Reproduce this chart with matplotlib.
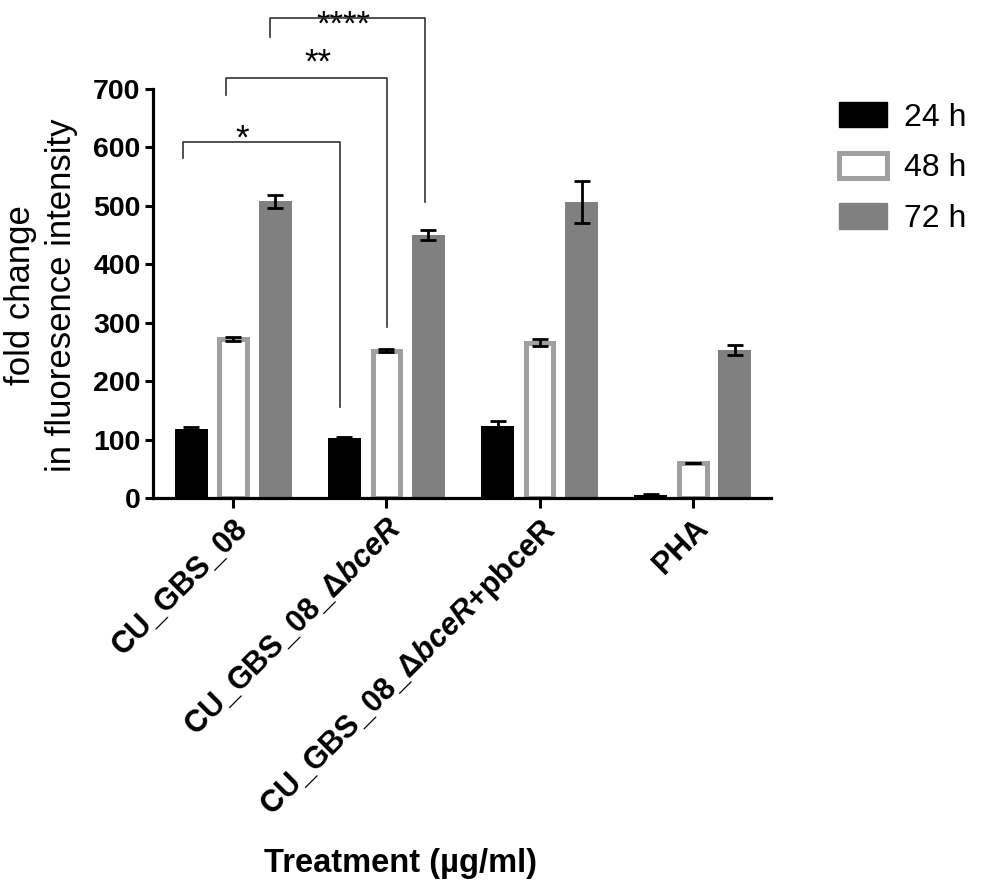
import matplotlib
matplotlib.use("Agg")
import matplotlib.pyplot as plt
from matplotlib.patches import Patch
import numpy as np

plt.rcParams['font.family'] = ['Liberation Sans', 'DejaVu Sans']
plt.rcParams['mathtext.fontset'] = 'custom'
plt.rcParams['mathtext.rm'] = 'Liberation Sans:bold'
plt.rcParams['mathtext.it'] = 'Liberation Sans:italic:bold'
plt.rcParams['mathtext.bf'] = 'Liberation Sans:bold'

# data
treatments = ['CU_GBS_08',
              'CU_GBS_08_Δ$\\mathit{bceR}$',
              'CU_GBS_08_Δ$\\mathit{bceR}$+pbceR',
              'PHA']
series = ['24 h', '48 h', '72 h']
h24 = [118, 103, 123, 5]
h24_err = [4, 2, 9, 1]
h48 = [272, 252, 266, 60]
h48_err = [3, 3, 6, 0]
h72 = [508, 450, 507, 253]
h72_err = [11, 9, 36, 8]

# significance brackets: (left x, right x, bar y, left foot, right foot, label)
sig = [(-0.326, 0.698, 610, 582, 156, '*'),
       (-0.046, 1.005, 719, 690, 293, '**'),
       (0.241, 1.252, 822, 789, 507, '****')]
# star placement (x centre, baseline y)
star_pos = [(0.059, 598), (0.554, 728), (0.718, 793)]

fig = plt.figure(figsize=(10, 8.82), dpi=100)
ax = fig.add_axes([0.153, 0.4354, 0.618, 0.4637])

x = np.arange(len(treatments))
off = 0.274
w = 0.215
ekw = dict(ecolor='black', elinewidth=2, capsize=6, capthick=2)

ax.bar(x - off, h24, w, color='black', yerr=h24_err, error_kw=ekw, label=series[0], zorder=2)
ax.bar(x, h48, w - 0.035, color='white', edgecolor='#a0a0a0', linewidth=3.6,
       yerr=h48_err, error_kw=ekw, label=series[1], zorder=2)
ax.bar(x + off, h72, w, color='#808080', yerr=h72_err, error_kw=ekw, label=series[2], zorder=2)

ax.set_xlim(-0.522, 3.509)
ax.set_ylim(0, 700)
ax.set_yticks(range(0, 701, 100))
ax.set_xticks(x)
ax.set_xticklabels(treatments, rotation=45, ha='right', rotation_mode='anchor',
                   fontsize=22, fontweight='bold')
for lab in ax.get_yticklabels():
    lab.set_fontsize(20.5)
    lab.set_fontweight('bold')

for s in ['top', 'right']:
    ax.spines[s].set_visible(False)
for s in ['left', 'bottom']:
    ax.spines[s].set_linewidth(2.3)
    ax.spines[s].set_zorder(3)
ax.tick_params(axis='x', length=7, width=2.2, pad=4)
ax.tick_params(axis='y', length=6, width=2.2, pad=3)

for (x0, x1, yb, yl, yr, txt), (sx, sy) in zip(sig, star_pos):
    ax.plot([x0, x0, x1, x1], [yl, yb, yb, yr], color='#333333', lw=1.2,
            clip_on=False, zorder=4)
    ax.text(sx, sy, txt, ha='center', va='baseline', fontsize=25, clip_on=False)

fig.text(0.041, 1 - 295 / 882, 'fold change\nin fluoresence intensity', rotation=90,
         ha='center', va='center', fontsize=25, linespacing=1.3)
fig.text(0.401, 1 - 872 / 882, 'Treatment (µg/ml)', ha='center', va='baseline',
         fontsize=23.5, fontweight='bold')

handles = [Patch(facecolor='black', edgecolor='black'),
           Patch(facecolor='white', edgecolor='#a0a0a0', linewidth=3.6),
           Patch(facecolor='#808080', edgecolor='#808080')]
fig.legend(handles, series, loc='upper left', bbox_to_anchor=(0.839, 1 - 102 / 882),
           frameon=False, fontsize=23, handlelength=1.5, handleheight=0.85,
           handletextpad=0.55, labelspacing=0.62, borderpad=0, borderaxespad=0)

fig.savefig('out.png', dpi=100)
